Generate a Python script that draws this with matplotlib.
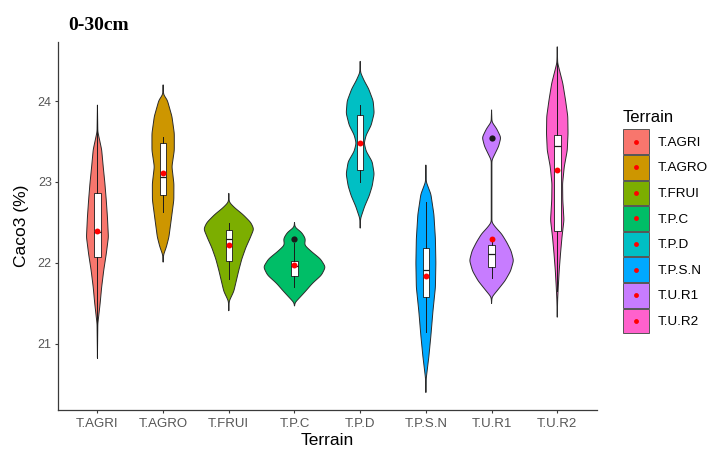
import numpy as np
import matplotlib.pyplot as plt
from matplotlib.patches import Patch, Rectangle
from matplotlib.lines import Line2D

plt.rcParams['font.family'] = ['Liberation Sans', 'DejaVu Sans']

terrains = ['T.AGRI', 'T.AGRO', 'T.FRUI', 'T.P.C', 'T.P.D', 'T.P.S.N', 'T.U.R1', 'T.U.R2']
colors = ['#F8766D', '#CD9600', '#7CAE00', '#00BE67', '#00BFC4', '#00A9FF', '#C77CFF', '#FF61CC']

# violin outlines: CaCO3 levels (top -> bottom) and half-widths in category units
agri_levels = [23.95, 23.62, 23.40, 23.19, 22.98, 22.78, 22.57, 22.32, 22.11, 21.91, 21.70, 21.50, 21.25, 20.83]
agri_widths = [0, 0.006, 0.064, 0.088, 0.114, 0.134, 0.152, 0.167, 0.134, 0.096, 0.064, 0.041, 0.006, 0]
agro_levels = [24.20, 24.08, 24.01, 23.81, 23.60, 23.39, 23.19, 22.98, 22.78, 22.55, 22.32, 22.20, 22.10, 22.01]
agro_widths = [0, 0.006, 0.064, 0.134, 0.170, 0.170, 0.134, 0.164, 0.163, 0.126, 0.088, 0.050, 0.006, 0]
frui_levels = [22.86, 22.75, 22.68, 22.60, 22.50, 22.42, 22.30, 22.19, 22.05, 21.91, 21.78, 21.65, 21.53, 21.41]
frui_widths = [0, 0.006, 0.091, 0.213, 0.335, 0.381, 0.320, 0.259, 0.198, 0.152, 0.114, 0.076, 0.006, 0]
pc_levels = [22.50, 22.44, 22.38, 22.30, 22.22, 22.14, 22.05, 21.95, 21.85, 21.75, 21.65, 21.57, 21.51, 21.47]
pc_widths = [0, 0.006, 0.107, 0.167, 0.152, 0.259, 0.396, 0.472, 0.411, 0.274, 0.167, 0.076, 0.006, 0]
pd_levels = [24.49, 24.35, 24.25, 24.15, 24.00, 23.85, 23.70, 23.58, 23.48, 23.38, 23.25, 23.10, 22.95,
             22.83, 22.70, 22.55, 22.43]
pd_widths = [0, 0.006, 0.061, 0.129, 0.198, 0.213, 0.167, 0.091, 0.061, 0.091, 0.183, 0.213, 0.183,
             0.137, 0.068, 0.006, 0]
psn_levels = [23.21, 23.00, 22.85, 22.60, 22.30, 22.00, 21.70, 21.40, 21.10, 20.85, 20.58, 20.40]
psn_widths = [0, 0.006, 0.076, 0.122, 0.145, 0.152, 0.145, 0.107, 0.076, 0.046, 0.006, 0]
ur1_levels = [23.89, 23.74, 23.66, 23.55, 23.44, 23.35, 23.27, 22.50, 22.44, 22.36, 22.26, 22.15, 22.03,
              21.90, 21.78, 21.68, 21.58, 21.50]
ur1_widths = [0, 0.006, 0.076, 0.142, 0.107, 0.053, 0.005, 0.005, 0.061, 0.152, 0.228, 0.297, 0.335,
              0.289, 0.205, 0.107, 0.006, 0]
ur2_levels = [24.67, 24.47, 24.22, 24.01, 23.81, 23.60, 23.39, 23.19, 22.98, 22.78, 22.53, 22.32, 22.12,
              21.91, 21.70, 21.55, 21.33]
ur2_widths = [0, 0.006, 0.084, 0.126, 0.160, 0.164, 0.152, 0.107, 0.081, 0.084, 0.102, 0.072, 0.050,
              0.030, 0.015, 0.006, 0]

violin_levels = [agri_levels, agro_levels, frui_levels, pc_levels, pd_levels, psn_levels, ur1_levels, ur2_levels]
violin_widths = [agri_widths, agro_widths, frui_widths, pc_widths, pd_widths, psn_widths, ur1_widths, ur2_widths]

# boxplot summaries
q1 = [22.08, 22.84, 22.03, 21.84, 23.15, 21.58, 21.95, 22.40]
median = [22.38, 23.06, 22.30, 21.96, 23.48, 21.91, 22.11, 23.45]
q3 = [22.86, 23.48, 22.41, 22.03, 23.83, 22.18, 22.22, 23.58]
whisker_low = [20.83, 22.63, 21.80, 21.70, 23.00, 21.15, 21.82, 21.66]
whisker_high = [23.95, 23.56, 22.49, 22.25, 23.95, 22.75, 22.26, 24.47]
outliers = [[], [], [], [22.30], [], [], [23.54], []]
means = [22.40, 23.11, 22.22, 21.97, 23.48, 21.84, 22.30, 23.15]


def draw_violin(ax, x, levels, widths, color):
    lv = np.asarray(levels, float)[::-1]
    w = np.asarray(widths, float)[::-1]
    y = np.arange(lv[0], lv[-1] + 0.0025, 0.005)
    hw = np.interp(y, lv, w)
    k = np.exp(-0.5 * (np.arange(-12, 13) / 4.0) ** 2)
    k /= k.sum()
    hw = np.convolve(np.pad(hw, 12, mode='edge'), k, mode='valid')
    xs = np.concatenate([x - hw, (x + hw)[::-1]])
    ys = np.concatenate([y, y[::-1]])
    ax.fill(xs, ys, facecolor=color, edgecolor='#2b2b2b', linewidth=0.7, zorder=2)


class KeyHandler:
    """Filled square key with a red mean dot in its centre."""

    def legend_artist(self, legend, orig_handle, fontsize, handlebox):
        x0, y0 = -handlebox.xdescent, -handlebox.ydescent
        w, h = handlebox.width, handlebox.height
        tr = handlebox.get_transform()
        rect = Rectangle((x0, y0), w, h, facecolor=orig_handle.get_facecolor(),
                         edgecolor='#555555', linewidth=0.7, transform=tr)
        dot = Line2D([x0 + w / 2], [y0 + h / 2], marker='o', color='red', linestyle='',
                     markersize=3.5, markeredgewidth=0, transform=tr)
        handlebox.add_artist(rect)
        handlebox.add_artist(dot)
        return rect


fig = plt.figure(figsize=(7.11, 4.5), dpi=100)
ax = fig.add_axes([0.0816, 0.0889, 0.7576, 0.8184])

positions = np.arange(1, len(terrains) + 1)
for i, pos in enumerate(positions):
    draw_violin(ax, pos, violin_levels[i], violin_widths[i], colors[i])

stats = []
for i in range(len(terrains)):
    stats.append(dict(med=median[i], q1=q1[i], q3=q3[i], whislo=whisker_low[i],
                      whishi=whisker_high[i], fliers=outliers[i]))
ax.bxp(stats, positions=positions, widths=0.1, patch_artist=True, showcaps=False,
       boxprops=dict(facecolor='white', edgecolor='#1a1a1a', linewidth=0.6),
       medianprops=dict(color='#1a1a1a', linewidth=0.9),
       whiskerprops=dict(color='#1a1a1a', linewidth=0.7),
       flierprops=dict(marker='o', markerfacecolor='#1a1a1a', markeredgecolor='none', markersize=4.5),
       manage_ticks=False, zorder=3)

ax.scatter(positions, means, s=18, color='red', zorder=4, linewidths=0)

ax.set_xlim(0.4, 8.6)
ax.set_ylim(20.185, 24.732)
ax.set_xticks(positions)
ax.set_xticklabels(terrains)
ax.set_yticks([21, 22, 23, 24])
for side in ['top', 'right']:
    ax.spines[side].set_visible(False)
for side in ['left', 'bottom']:
    ax.spines[side].set_color('#3a3a3a')
    ax.spines[side].set_linewidth(0.9)
ax.tick_params(axis='both', colors='#3a3a3a', length=2.5, width=0.8, labelcolor='#555555')
ax.tick_params(axis='x', labelsize=9.5, pad=3)
ax.tick_params(axis='y', labelsize=9, pad=2)

ax.set_xlabel('Terrain', fontsize=12.5)
ax.set_ylabel('Caco3 (%)', fontsize=12.5)
ax.xaxis.set_label_coords(0.5, -0.062)
ax.yaxis.set_label_coords(-0.054, 0.5)

fig.text(68 / 711, 1 - 30 / 450, '0-30cm', family='Liberation Serif', weight='bold',
         fontsize=14, va='baseline')

# legend: title placed on its own so the gap above the keys can be set
fig.text(623 / 711, 1 - 121.5 / 450, 'Terrain', fontsize=12, va='baseline')
handles = [Patch(facecolor=c) for c in colors]
fig.legend(handles, terrains, handler_map={Patch: KeyHandler()},
           loc='upper left', bbox_to_anchor=(0.876, 0.7127), frameon=False,
           fontsize=9.7, borderpad=0, borderaxespad=0, handlelength=1.93, handleheight=2.44,
           labelspacing=0.07, handletextpad=0.67)

fig.savefig('out.png', dpi=100)
